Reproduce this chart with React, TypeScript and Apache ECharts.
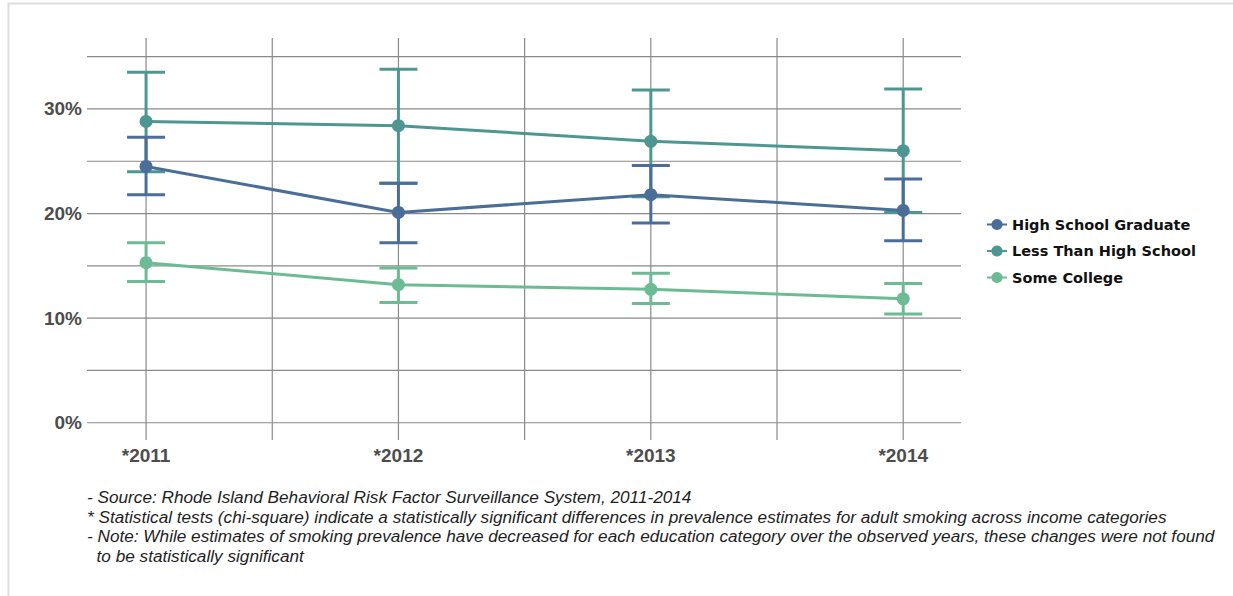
import React, { useEffect, useRef } from "react";
import * as echarts from "echarts";

// Survey years and estimates (percent) by education level
const years = ["2011", "2012", "2013", "2014"];

const lessThanHS = [28.8, 28.4, 26.9, 26.0];
const lessThanHSLow = [24.0, 22.9, 21.6, 20.1];
const lessThanHSHigh = [33.5, 33.8, 31.8, 31.9];

const hsGraduate = [24.5, 20.1, 21.8, 20.3];
const hsGraduateLow = [21.8, 17.2, 19.1, 17.4];
const hsGraduateHigh = [27.3, 22.9, 24.6, 23.3];

const someCollege = [15.3, 13.2, 12.75, 11.85];
const someCollegeLow = [13.5, 11.5, 11.4, 10.4];
const someCollegeHigh = [17.2, 14.8, 14.3, 13.3];

const yLabelValues = [0, 10, 20, 30];
const yGridValues = [0, 5, 10, 15, 20, 25, 30, 35];
const xGridValues = [0, 0.5, 1, 1.5, 2, 2.5, 3];

const notes = [
  "- Source: Rhode Island Behavioral Risk Factor Surveillance System, 2011-2014",
  "* Statistical tests (chi-square) indicate a statistically significant differences in prevalence estimates for adult smoking across income categories",
  "- Note: While estimates of smoking prevalence have decreased for each education category over the observed years, these changes were not found",
  "  to be statistically significant",
];

const COLORS = {
  hs: "#4a6e97",
  lths: "#4e9692",
  college: "#6dbb94",
};

function errorBarSeries(name: string, low: number[], high: number[], color: string) {
  return {
    type: "custom",
    name,
    silent: true,
    z: 3,
    data: low.map((l, i) => [i, l, high[i]]),
    renderItem: (_params: any, api: any) => {
      const x = api.value(0);
      const lo = api.coord([x, api.value(1)]);
      const hi = api.coord([x, api.value(2)]);
      const half = 19;
      const style = { stroke: color, lineWidth: 3 };
      return {
        type: "group",
        children: [
          { type: "line", shape: { x1: lo[0], y1: lo[1], x2: hi[0], y2: hi[1] }, style },
          { type: "line", shape: { x1: hi[0] - half, y1: hi[1], x2: hi[0] + half, y2: hi[1] }, style },
          { type: "line", shape: { x1: lo[0] - half, y1: lo[1], x2: lo[0] + half, y2: lo[1] }, style },
        ],
      };
    },
  };
}

function lineSeries(name: string, values: number[], color: string) {
  return {
    type: "line",
    name,
    z: 4,
    data: values.map((v, i) => [i, v]),
    symbol: "circle",
    symbolSize: 13,
    lineStyle: { color, width: 3 },
    itemStyle: { color },
  };
}

export default function App() {
  const ref = useRef<HTMLDivElement>(null);

  useEffect(() => {
    if (!ref.current) return;
    const chart = echarts.init(ref.current, undefined, { renderer: "svg" });

    const gridData = [
      ...yGridValues.map((v) => [0, v]),
      ...xGridValues.map((v) => [1, v]),
    ];

    const noteFont = "italic 17.2px 'Liberation Sans', Arial, sans-serif";
    const axisFont = {
      fontSize: 19,
      fontWeight: "bold",
      color: "#4d4d4d",
      fontFamily: "'Liberation Sans', Arial, sans-serif",
    };

    chart.setOption({
      animation: false,
      backgroundColor: "#ffffff",
      grid: { left: 87, right: 272, top: 38, bottom: 156 },
      xAxis: {
        type: "value",
        min: -0.234,
        max: 3.229,
        axisLine: { show: false },
        axisTick: { show: false },
        splitLine: { show: false },
        axisLabel: {
          customValues: [0, 1, 2, 3],
          formatter: (v: number) => "*" + years[Math.round(v)],
          margin: 6,
          ...axisFont,
        },
      },
      yAxis: {
        type: "value",
        min: -1.65,
        max: 36.78,
        axisLine: { show: false },
        axisTick: { show: false },
        splitLine: { show: false },
        axisLabel: {
          customValues: yLabelValues,
          formatter: "{value}%",
          margin: 5,
          ...axisFont,
        },
      },
      legend: {
        orient: "vertical",
        left: 981,
        top: 212,
        itemWidth: 20,
        itemHeight: 14,
        itemGap: 11.5,
        data: ["High School Graduate", "Less Than High School", "Some College"],
        textStyle: {
          fontSize: 14.5,
          fontWeight: "bold",
          color: "#111111",
          fontFamily: "'DejaVu Sans', Verdana, sans-serif",
        },
      },
      graphic: [
        {
          type: "rect",
          silent: true,
          shape: { x: 8.5, y: 3.5, width: 1240, height: 620 },
          style: { fill: "none", stroke: "#dedede", lineWidth: 2 },
        },
        ...notes.map((t, i) => ({
          type: "text",
          silent: true,
          x: 87,
          y: 497 + i * 19.7,
          style: {
            text: t,
            font: noteFont,
            fill: "#1e1e1e",
            textVerticalAlign: "middle",
          },
        })),
      ],
      series: [
        {
          type: "custom",
          name: "gridlines",
          silent: true,
          z: 1,
          data: gridData,
          renderItem: (params: any, api: any) => {
            const cs = params.coordSys;
            const kind = api.value(0);
            const v = api.value(1);
            const style = { stroke: "#8a8a8a", lineWidth: 1.2 };
            if (kind === 0) {
              const y = api.coord([0, v])[1];
              return { type: "line", shape: { x1: cs.x, y1: y, x2: cs.x + cs.width, y2: y }, style };
            }
            const x = api.coord([v, 0])[0];
            return { type: "line", shape: { x1: x, y1: cs.y, x2: x, y2: cs.y + cs.height }, style };
          },
        },
        errorBarSeries("lths-ci", lessThanHSLow, lessThanHSHigh, COLORS.lths),
        lineSeries("Less Than High School", lessThanHS, COLORS.lths),
        errorBarSeries("hs-ci", hsGraduateLow, hsGraduateHigh, COLORS.hs),
        lineSeries("High School Graduate", hsGraduate, COLORS.hs),
        errorBarSeries("college-ci", someCollegeLow, someCollegeHigh, COLORS.college),
        lineSeries("Some College", someCollege, COLORS.college),
      ],
    });

    return () => chart.dispose();
  }, []);

  return (
    <div
      ref={ref}
      style={{ position: "fixed", left: 0, top: 0, width: 1233, height: 596 }}
    />
  );
}
